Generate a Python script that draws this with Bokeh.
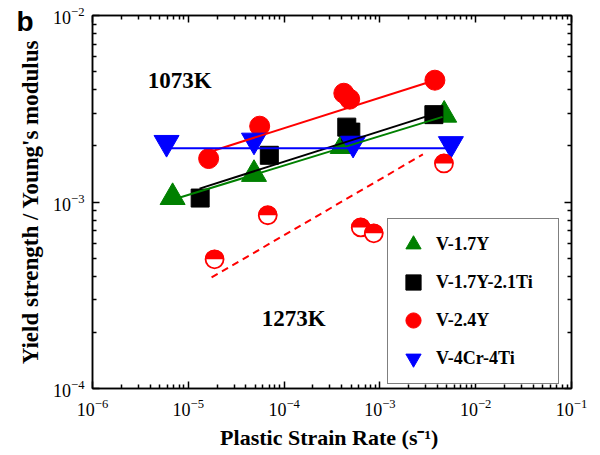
import numpy as np
from bokeh.plotting import figure
from bokeh.models import (FixedTicker, LogAxis, Legend, LegendItem, Label,
                          CustomJSTickFormatter, Range1d)
from bokeh.embed import file_html
from bokeh.resources import INLINE

# ---- data ----
# V-1.7Y (1073K)
y17_x = [6.86e-6, 4.85e-5, 4.09e-4, 4.69e-3]
y17_y = [1.06e-3, 1.41e-3, 1.99e-3, 2.93e-3]
# V-1.7Y-2.1Ti (1073K)
y17ti_x = [1.33e-5, 7.01e-5, 4.51e-4, 4.97e-4, 3.66e-3]
y17ti_y = [1.05e-3, 1.78e-3, 2.52e-3, 2.37e-3, 2.94e-3]
# V-2.4Y (1073K)
y24_x = [1.63e-5, 5.56e-5, 4.20e-4, 4.84e-4, 3.75e-3]
y24_y = [1.71e-3, 2.55e-3, 3.83e-3, 3.56e-3, 4.50e-3]
# V-2.4Y (1273K), half-filled symbols
y24h_x = [1.88e-5, 6.75e-5, 6.31e-4, 8.63e-4, 4.66e-3]
y24h_y = [4.93e-4, 8.49e-4, 7.31e-4, 6.79e-4, 1.61e-3]
# V-4Cr-4Ti (1073K)
cr_x = [5.93e-6, 4.85e-5, 5.25e-4, 5.51e-3]
cr_y = [2.08e-3, 2.14e-3, 2.06e-3, 2.05e-3]

# fitted lines (end points)
fit_y17_x = [8.32e-6, 4.51e-3]
fit_y17_y = [1.06e-3, 2.86e-3]
fit_y17ti_x = [1.31e-5, 3.57e-3]
fit_y17ti_y = [1.18e-3, 2.95e-3]
fit_y24_x = [1.63e-5, 3.75e-3]
fit_y24_y = [1.85e-3, 4.50e-3]
fit_cr_x = [5.79e-6, 5.25e-3]
fit_cr_y = [1.94e-3, 1.94e-3]
fit_y24h_x = [1.75e-5, 2.81e-3]
fit_y24h_y = [3.94e-4, 1.80e-3]

x_major = [1e-6, 1e-5, 1e-4, 1e-3, 1e-2, 1e-1]
y_major = [1e-4, 1e-3, 1e-2]
x_minor = [k * 10.0 ** d for d in range(-6, -1) for k in range(2, 10)]
y_minor = [k * 10.0 ** d for d in range(-4, -2) for k in range(2, 10)]

labels = ["V-1.7Y", "V-1.7Y-2.1Ti", "V-2.4Y", "V-4Cr-4Ti"]
temp_labels = ["1073K", "1273K"]
temp_x = [8.11e-6, 1.26e-4]
temp_y = [4.50e-3, 2.38e-4]
panel_label = "b"

GREEN, BLACK, RED, BLUE = "#008000", "#000000", "#ff0000", "#0000ff"
SERIF = "Liberation Serif"

p = figure(width=600, height=455, x_axis_type="log", y_axis_type="log",
           x_range=Range1d(1e-6, 1e-1), y_range=Range1d(1e-4, 1e-2),
           output_backend="svg", toolbar_location=None,
           min_border_left=92, min_border_right=29, min_border_top=15,
           min_border_bottom=67)
p.grid.visible = False
p.outline_line_color = "black"
p.outline_line_width = 1.5
p.background_fill_color = "white"
p.border_fill_color = "white"

xt = FixedTicker(ticks=x_major, minor_ticks=x_minor)
yt = FixedTicker(ticks=y_major, minor_ticks=y_minor)

def style_axis(ax, ticker):
    ax.ticker = ticker
    ax.axis_line_color = "black"
    ax.axis_line_width = 1.5
    ax.major_tick_in = 7
    ax.major_tick_out = 0
    ax.minor_tick_in = 4
    ax.minor_tick_out = 0
    ax.major_tick_line_color = "black"
    ax.minor_tick_line_color = "black"
    ax.major_tick_line_width = 1.5
    ax.minor_tick_line_width = 1.5
    ax.major_label_text_font = SERIF
    ax.major_label_text_font_size = "18px"
    ax.major_label_text_color = "black"
    ax.axis_label_text_font = SERIF
    ax.axis_label_text_font_size = "22px"
    ax.axis_label_text_font_style = "bold"
    ax.axis_label_text_color = "black"

style_axis(p.xaxis[0], xt)
style_axis(p.yaxis[0], yt)
p.xaxis[0].axis_label = "Plastic Strain Rate  (s\u207b\u00b9)"
p.yaxis[0].axis_label = "Yield strength / Young's modulus"
p.yaxis[0].axis_label_text_font_size = "23px"
p.xaxis[0].major_label_standoff = 10
p.yaxis[0].major_label_standoff = 8
p.xaxis[0].axis_label_standoff = 6
p.yaxis[0].axis_label_standoff = 7

top = LogAxis()
style_axis(top, xt)
top.formatter = CustomJSTickFormatter(code="return ''")
top.major_label_standoff = 0
right = LogAxis()
style_axis(right, yt)
right.formatter = CustomJSTickFormatter(code="return ''")
right.major_label_standoff = 0
p.add_layout(top, "above")
p.add_layout(right, "right")

# markers
r_g = p.scatter(y17_x, y17_y, marker="triangle", size=25, fill_color=GREEN, line_color=GREEN)
r_k = p.scatter(y17ti_x, y17ti_y, marker="square", size=18, fill_color=BLACK, line_color=BLACK)
r_r = p.scatter(y24_x, y24_y, marker="circle", size=20, fill_color=RED, line_color=RED)
r_b = p.scatter(cr_x, cr_y, marker="inverted_triangle", size=25, fill_color=BLUE, line_color=BLUE)

# half-filled circles (1273K)
p.scatter(y24h_x, y24h_y, marker="circle", size=18, fill_color="white", line_color=RED, line_width=1.8)
p.wedge(y24h_x, y24h_y, radius=9.6, radius_units="screen", start_angle=0, end_angle=np.pi,
        fill_color=RED, line_color=None)

# fit lines
p.line(fit_y17_x, fit_y17_y, line_color=GREEN, line_width=2)
p.line(fit_y17ti_x, fit_y17ti_y, line_color=BLACK, line_width=2)
p.line(fit_y24_x, fit_y24_y, line_color=RED, line_width=2)
p.line(fit_cr_x, fit_cr_y, line_color=BLUE, line_width=2)
p.line(fit_y24h_x, fit_y24h_y, line_color=RED, line_width=2, line_dash="7 5")

for t, tx, ty in zip(temp_labels, temp_x, temp_y):
    p.add_layout(Label(x=tx, y=ty, text=t, text_font=SERIF, text_font_size="23px",
                       text_font_style="bold", text_align="center", text_baseline="middle",
                       text_color="black"))

# panel letter: placed in a side panel so it is not clipped to the frame
p.add_layout(Label(x=16, y=5, x_units="canvas", y_units="canvas", text=panel_label,
                   text_font="Liberation Sans", text_font_size="28px", text_font_style="bold",
                   text_baseline="top", text_color="black"), "right")

legend = Legend(items=[LegendItem(label=labels[0], renderers=[r_g]),
                       LegendItem(label=labels[1], renderers=[r_k]),
                       LegendItem(label=labels[2], renderers=[r_r]),
                       LegendItem(label=labels[3], renderers=[r_b])],
                location=(295, 4), glyph_width=38, glyph_height=38, spacing=-5,
                padding=6, label_standoff=4, label_width=116,
                label_text_font=SERIF, label_text_font_size="18px",
                label_text_font_style="bold", label_text_color="black",
                border_line_color="black", border_line_width=1.2,
                background_fill_color="white", background_fill_alpha=1.0)
p.add_layout(legend, "center")

open("out.html", "w").write(file_html(p, INLINE))
